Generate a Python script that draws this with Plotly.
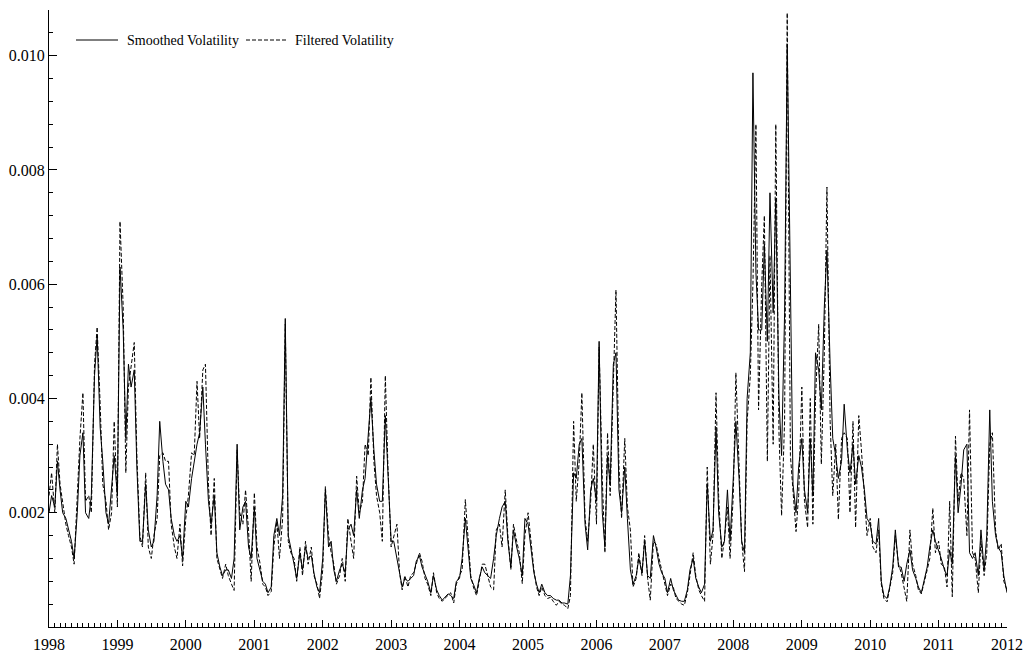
import pandas as pd
import plotly.graph_objects as go

# Semi-monthly observation dates (1st and 15th of each month), Jan 1998 - Jan 2012
dates = pd.date_range("1998-01-01", periods=337, freq="SMS")

# Smoothed volatility
smoothed = [
    # 1998
    0.0020, 0.0023, 0.0021, 0.0029, 0.0024, 0.0020, 0.0019, 0.0017, 0.0015, 0.0012, 0.0020, 0.0030,
    0.0034, 0.0020, 0.0019, 0.0023, 0.0044, 0.0051, 0.0035, 0.0029, 0.0020, 0.0018, 0.0024, 0.0030,
    # 1999
    0.0023, 0.0063, 0.0052, 0.0033, 0.0046, 0.0042, 0.0045, 0.0028, 0.0015, 0.0015, 0.0025, 0.0017,
    0.0014, 0.0015, 0.0023, 0.0036, 0.0029, 0.0025, 0.0024, 0.0019, 0.0016, 0.0015, 0.0016, 0.0012,
    # 2000
    0.0022, 0.0021, 0.0026, 0.0029, 0.0032, 0.0034, 0.0042, 0.0032, 0.0022, 0.0018, 0.0023, 0.0013,
    0.00105, 0.0009, 0.0010, 0.0010, 0.00085, 0.0012, 0.0032, 0.0017, 0.0021, 0.0022, 0.0014, 0.0012,
    # 2001
    0.0021, 0.0012, 0.00095, 0.0008, 0.00075, 0.0006, 0.0007, 0.0016, 0.0019, 0.0016, 0.0023, 0.0054,
    0.0016, 0.0014, 0.0011, 0.00085, 0.0013, 0.0010, 0.0014, 0.0012, 0.00125, 0.00095, 0.0007, 0.0006,
    # 2002
    0.0012, 0.0024, 0.0014, 0.0015, 0.0010, 0.0008, 0.0010, 0.0011, 0.00095, 0.0017, 0.0018, 0.0016,
    0.0024, 0.0019, 0.0024, 0.0026, 0.0033, 0.0040, 0.0031, 0.0025, 0.0022, 0.0022, 0.0037, 0.0026,
    # 2003
    0.0015, 0.0015, 0.0012, 0.0009, 0.0007, 0.00085, 0.0008, 0.00085, 0.0009, 0.00115, 0.00125, 0.00105,
    0.0009, 0.0008, 0.0006, 0.0009, 0.00065, 0.00055, 0.00047, 0.00052, 0.00058, 0.00055, 0.0005, 0.0008,
    # 2004
    0.00085, 0.0012, 0.0019, 0.0014, 0.00085, 0.00075, 0.0006, 0.00085, 0.00105, 0.00095, 0.0009, 0.00085,
    0.0012, 0.0016, 0.0019, 0.0021, 0.0022, 0.0015, 0.00105, 0.0017, 0.0014, 0.0012, 0.0009, 0.0019,
    # 2005
    0.0018, 0.0014, 0.00095, 0.00075, 0.0006, 0.00075, 0.0006, 0.00055, 0.00055, 0.0005, 0.00047, 0.00047,
    0.00042, 0.00042, 0.0004, 0.0009, 0.0027, 0.0026, 0.0032, 0.0033, 0.0018, 0.00135, 0.0024, 0.0026,
    # 2006
    0.0022, 0.0050, 0.0020, 0.0014, 0.0030, 0.0025, 0.0046, 0.0048, 0.0024, 0.0020, 0.0028, 0.0019,
    0.0010, 0.00075, 0.0009, 0.0012, 0.00095, 0.0015, 0.0009, 0.00085, 0.0016, 0.0014, 0.0011, 0.00095,
    # 2007
    0.00085, 0.0006, 0.00085, 0.00065, 0.00055, 0.00047, 0.00045, 0.00045, 0.00065, 0.0010, 0.0012, 0.00085,
    0.0007, 0.0006, 0.00075, 0.0025, 0.0015, 0.0017, 0.0035, 0.0020, 0.0014, 0.0015, 0.0024, 0.0015,
    # 2008
    0.0026, 0.0036, 0.0026, 0.0015, 0.0013, 0.0040, 0.0048, 0.0097, 0.0062, 0.0052, 0.0052, 0.0067,
    0.0050, 0.0076, 0.0055, 0.0075, 0.0040, 0.0030, 0.0055, 0.0102, 0.0060, 0.0025, 0.0020, 0.0028,
    # 2009
    0.0033, 0.0024, 0.0020, 0.0033, 0.0023, 0.0048, 0.0045, 0.0038, 0.0056, 0.0066, 0.0046, 0.0033,
    0.0030, 0.0026, 0.0029, 0.0039, 0.0031, 0.0027, 0.0032, 0.0025, 0.0030, 0.0028, 0.0024, 0.0019,
    # 2010
    0.0018, 0.0015, 0.00145, 0.0019, 0.0008, 0.00055, 0.0005, 0.0007, 0.00105, 0.0017, 0.00105, 0.00105,
    0.0008, 0.0011, 0.00135, 0.0010, 0.00085, 0.0007, 0.0006, 0.0008, 0.00105, 0.0014, 0.0017, 0.0015,
    # 2011
    0.00135, 0.0012, 0.0010, 0.0009, 0.00135, 0.0011, 0.0030, 0.0020, 0.0025, 0.0031, 0.0032, 0.0013,
    0.0012, 0.0013, 0.0009, 0.0017, 0.0010, 0.0016, 0.0038, 0.0022, 0.0016, 0.0014, 0.0013, 0.0009,
    # Jan 2012
    0.0006,
]

# Filtered volatility
filtered = [
    # 1998
    0.0023, 0.0027, 0.0020, 0.0032, 0.0025, 0.0022, 0.0018, 0.0016, 0.0014, 0.0011, 0.0023, 0.0033,
    0.0041, 0.0022, 0.0023, 0.0020, 0.0046, 0.00525, 0.0039, 0.0025, 0.0022, 0.0017, 0.0020, 0.0036,
    # 1999
    0.0021, 0.0071, 0.0056, 0.0027, 0.0042, 0.0046, 0.00498, 0.0030, 0.0016, 0.0014, 0.0027, 0.0014,
    0.0012, 0.0016, 0.0019, 0.0030, 0.00305, 0.0029, 0.0029, 0.0018, 0.0014, 0.0012, 0.0018, 0.00107,
    # 2000
    0.0019, 0.0023, 0.00305, 0.0030, 0.0043, 0.0033, 0.0045, 0.0046, 0.0025, 0.0016, 0.0026, 0.0012,
    0.0010, 0.00085, 0.0011, 0.0009, 0.00075, 0.00064, 0.0031, 0.0020, 0.0018, 0.0024, 0.0017, 0.0008,
    # 2001
    0.00235, 0.0014, 0.0011, 0.00075, 0.0007, 0.00055, 0.00062, 0.0014, 0.00185, 0.0012, 0.0019, 0.0053,
    0.0015, 0.0013, 0.0012, 0.0008, 0.0014, 0.0009, 0.0015, 0.0011, 0.0014, 0.0009, 0.00075, 0.0005,
    # 2002
    0.0010, 0.00246, 0.0016, 0.0013, 0.0011, 0.00075, 0.0009, 0.0012, 0.0008, 0.0019, 0.0015, 0.0012,
    0.00264, 0.0020, 0.0022, 0.0032, 0.0030, 0.00437, 0.0029, 0.0023, 0.0020, 0.0015, 0.0044, 0.0028,
    # 2003
    0.0014, 0.0016, 0.0018, 0.00095, 0.00065, 0.0009, 0.0007, 0.0009, 0.00095, 0.0011, 0.0013, 0.00115,
    0.00085, 0.00075, 0.00055, 0.00095, 0.0006, 0.0005, 0.00045, 0.0005, 0.00055, 0.0006, 0.00042, 0.00075,
    # 2004
    0.0009, 0.0010, 0.00223, 0.0015, 0.0009, 0.0007, 0.00055, 0.0008, 0.0011, 0.0011, 0.00085, 0.0007,
    0.00065, 0.0017, 0.0018, 0.0014, 0.0024, 0.0016, 0.0010, 0.0018, 0.0015, 0.0013, 0.00076, 0.0016,
    # 2005
    0.0020, 0.0015, 0.0010, 0.0007, 0.00055, 0.0007, 0.00055, 0.0005, 0.00052, 0.00045, 0.00038, 0.00045,
    0.0004, 0.00038, 0.00032, 0.00055, 0.0036, 0.0022, 0.0029, 0.0041, 0.0019, 0.0015, 0.0022, 0.0032,
    # 2006
    0.0018, 0.0049, 0.0026, 0.0013, 0.0034, 0.0023, 0.0042, 0.0059, 0.0028, 0.0019, 0.0033, 0.0021,
    0.0017, 0.0007, 0.00085, 0.0013, 0.0009, 0.0016, 0.00085, 0.00047, 0.0015, 0.00145, 0.0012, 0.0010,
    # 2007
    0.0008, 0.00055, 0.00075, 0.0007, 0.0005, 0.00045, 0.0004, 0.00038, 0.0006, 0.0009, 0.0013, 0.0009,
    0.00065, 0.00055, 0.00045, 0.0028, 0.0011, 0.0016, 0.0041, 0.0023, 0.0012, 0.00155, 0.0021, 0.0012,
    # 2008
    0.0023, 0.00445, 0.0027, 0.0015, 0.00097, 0.0036, 0.0044, 0.0060, 0.0088, 0.0038, 0.0060, 0.0072,
    0.0029, 0.0065, 0.0032, 0.0088, 0.0034, 0.00195, 0.0036, 0.01075, 0.0030, 0.0024, 0.00167, 0.0023,
    # 2009
    0.0042, 0.0022, 0.00174, 0.0040, 0.0018, 0.0040, 0.0053, 0.00285, 0.0048, 0.0077, 0.0036, 0.0023,
    0.0032, 0.00188, 0.0033, 0.0034, 0.0033, 0.0020, 0.0036, 0.00174, 0.0037, 0.0031, 0.0022, 0.0016,
    # 2010
    0.0019, 0.0014, 0.0013, 0.0017, 0.00075, 0.0005, 0.00044, 0.00065, 0.00095, 0.0016, 0.0011, 0.00095,
    0.0007, 0.00045, 0.0017, 0.0011, 0.0009, 0.00065, 0.00058, 0.00075, 0.0010, 0.0012, 0.00208, 0.0013,
    # 2011
    0.0015, 0.0011, 0.00105, 0.0007, 0.0022, 0.00053, 0.00334, 0.0022, 0.0027, 0.0026, 0.0016, 0.0038,
    0.0013, 0.0012, 0.0006, 0.0015, 0.0009, 0.0013, 0.0032, 0.0034, 0.0017, 0.00135, 0.00146, 0.0008,
    # Jan 2012
    0.00065,
]

series_names = ["Smoothed Volatility", "Filtered Volatility"]
dash_pattern = "4px,2px"
serif = "Liberation Serif, Times New Roman, serif"

fig = go.Figure()
fig.add_trace(go.Scatter(
    x=dates, y=smoothed, mode="lines", name=series_names[0], showlegend=False,
    line=dict(color="black", width=1),
))
fig.add_trace(go.Scatter(
    x=dates, y=filtered, mode="lines", name=series_names[1], showlegend=False,
    line=dict(color="black", width=1, dash=dash_pattern),
))

# Key drawn in the upper-left corner of the plot area (paper coordinates)
plot_left, plot_width = 49, 958
plot_bottom, plot_height = 627, 617


def px_x(px):
    return (px - plot_left) / plot_width


def px_y(py):
    return (plot_bottom - py) / plot_height


key_y = 40
key_items = [
    (76, 118, 125, None, series_names[0]),
    (246, 287, 293, dash_pattern, series_names[1]),
]
for x0, x1, xt, dash, label in key_items:
    fig.add_shape(
        type="line", xref="paper", yref="paper",
        x0=px_x(x0), x1=px_x(x1), y0=px_y(key_y), y1=px_y(key_y),
        line=dict(color="black", width=1, dash=dash or "solid"),
    )
    fig.add_annotation(
        xref="paper", yref="paper", x=px_x(xt), y=px_y(key_y),
        xanchor="left", yanchor="middle", showarrow=False, text=label,
        font=dict(family=serif, size=14, color="black"),
    )

fig.update_layout(
    width=1024, height=656,
    margin=dict(l=49, r=17, t=10, b=29),
    paper_bgcolor="white", plot_bgcolor="white",
    font=dict(family=serif, size=16, color="black"),
    showlegend=False,
    xaxis=dict(
        type="date",
        range=["1998-01-01", "2012-01-01"],
        tickmode="linear", tick0="1998-01-01", dtick="M12", tickformat="%Y",
        ticks="inside", ticklen=7, tickwidth=1, tickcolor="black",
        minor=dict(dtick="M1", tick0="1998-01-01", ticks="inside", ticklen=4,
                   tickwidth=1, tickcolor="black", showgrid=False),
        showline=True, linecolor="black", linewidth=1,
        showgrid=False, zeroline=False, automargin=False,
        ticklabelstandoff=3,
        tickfont=dict(family=serif, size=16, color="black"),
    ),
    yaxis=dict(
        range=[0, 0.0108],
        tickmode="array",
        tickvals=[0.002, 0.004, 0.006, 0.008, 0.010],
        ticktext=["0.002", "0.004", "0.006", "0.008", "0.010"],
        ticks="inside", ticklen=8, tickwidth=1, tickcolor="black",
        minor=dict(tickmode="linear", tick0=0, dtick=0.0004, ticks="inside",
                   ticklen=4, tickwidth=1, tickcolor="black", showgrid=False),
        showline=True, linecolor="black", linewidth=1,
        showgrid=False, zeroline=False, automargin=False,
        tickfont=dict(family=serif, size=16, color="black"),
    ),
)

fig.write_html("out.html")
